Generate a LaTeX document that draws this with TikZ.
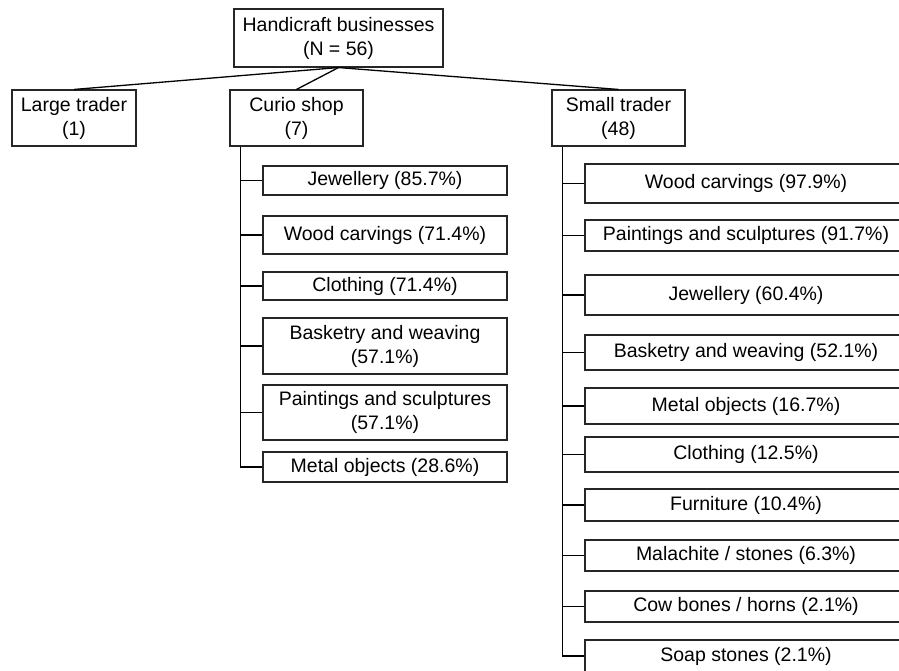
\documentclass[tikz,border=0pt]{standalone}
\usepackage{fontspec}
\setmainfont{Liberation Sans}
\begin{document}
\begin{tikzpicture}[x=1pt,y=-1pt,
  box/.style={draw=black!85, line width=1.1pt, inner sep=0pt, align=center,
    font=\fontsize{19.5}{24}\selectfont, text=black},
  link/.style={draw=black, line width=1.3pt}]
\useasboundingbox (0,0) rectangle (899,670);
\clip (0,0) rectangle (899,670);
% level 0 and 1
\node[box, minimum width=209pt, minimum height=58pt] (top) at (338.5,38) {Handicraft businesses\\(N = 56)};
\node[box, minimum width=124pt, minimum height=56pt] (large) at (74,118) {Large trader\\(1)};
\node[box, minimum width=133pt, minimum height=56pt] (curio) at (296.5,118) {Curio shop\\(7)};
\node[box, minimum width=133pt, minimum height=56pt] (small) at (618.5,118) {Small trader\\(48)};
\draw[link] (top.south) -- (large.north);
\draw[link] (top.south) -- (curio.north);
\draw[link] (top.south) -- (small.north);
% curio shop children
\tikzset{cbox/.style={box, minimum width=244pt}}
\node[cbox, minimum height=29pt] (c1) at (385,180.5) {Jewellery (85.7\%)};
\node[cbox, minimum height=38pt] (c2) at (385,235) {Wood carvings (71.4\%)};
\node[cbox, minimum height=28pt] (c3) at (385,286) {Clothing (71.4\%)};
\node[cbox, minimum height=56pt] (c4) at (385,346) {Basketry and weaving\\(57.1\%)};
\node[cbox, minimum height=55pt] (c5) at (385,412.5) {Paintings and sculptures\\(57.1\%)};
\node[cbox, minimum height=30pt] (c6) at (385,467) {Metal objects (28.6\%)};
\coordinate (ct) at ([xshift=11pt]curio.south west);
\draw[link] (ct) |- (c6.west);
\foreach \n in {c1,c2,c3,c4,c5} \draw[link] (\n.west) -- (\n.west -| ct);
% small trader children
\tikzset{sbox/.style={box, minimum width=322pt}}
\node[sbox, minimum height=39pt] (s1) at (746,183.5) {Wood carvings (97.9\%)};
\node[sbox, minimum height=31pt] (s2) at (746,235.5) {Paintings and sculptures (91.7\%)};
\node[sbox, minimum height=40pt] (s3) at (746,295) {Jewellery (60.4\%)};
\node[sbox, minimum height=35pt] (s4) at (746,352.5) {Basketry and weaving (52.1\%)};
\node[sbox, minimum height=36pt] (s5) at (746,406) {Metal objects (16.7\%)};
\node[sbox, minimum height=35pt] (s6) at (746,454.5) {Clothing (12.5\%)};
\node[sbox, minimum height=32pt] (s7) at (746,505) {Furniture (10.4\%)};
\node[sbox, minimum height=31pt] (s8) at (746,555.5) {Malachite / stones (6.3\%)};
\node[sbox, minimum height=31pt] (s9) at (746,606.5) {Cow bones / horns (2.1\%)};
\node[sbox, minimum height=32pt] (s10) at (746,656) {Soap stones (2.1\%)};
\coordinate (st) at ([xshift=11pt]small.south west);
\draw[link] (st) |- (s10.west);
\foreach \n in {s1,s2,s3,s4,s5,s6,s7,s8,s9} \draw[link] (\n.west) -- (\n.west -| st);
\end{tikzpicture}
\end{document}
